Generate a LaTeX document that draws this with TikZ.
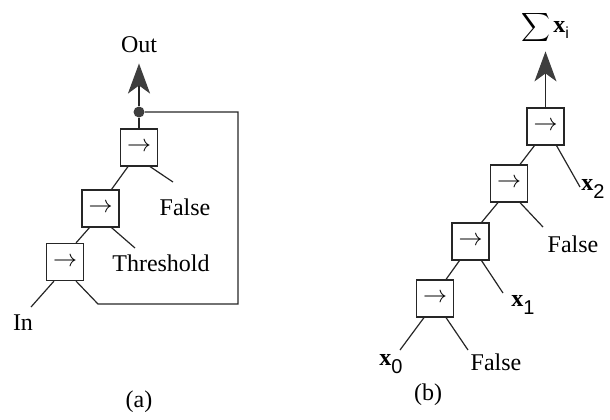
\documentclass[tikz,border=0pt]{standalone}
\usepackage{fontspec}
\setmainfont{Liberation Serif}
\newfontfamily\digitfont{Liberation Sans}
\usetikzlibrary{arrows.meta}
\definecolor{inkgray}{RGB}{62,62,62}

% bold x with a lowered sans digit
\newcommand{\xvar}[1]{\textbf{x}\raisebox{-0.34em}{\fontsize{10}{11}\digitfont #1}}

\begin{document}
\begin{tikzpicture}[x=0.5pt, y=-0.5pt,
  gate/.style={rectangle, draw=black!85, line width=0.6pt, minimum size=18.5pt,
               inner sep=0pt, font=\fontsize{12}{14}\selectfont},
  wire/.style={draw=black!85, line width=0.6pt},
  lbl/.style={inner sep=0pt, font=\fontsize{12}{14}\selectfont},
  vlbl/.style={inner sep=0pt, font=\fontsize{12}{14}\selectfont},
  outarrow/.style={-{Stealth[length=15pt, width=11pt, inset=4pt, fill=inkgray, color=inkgray]}}
]
\useasboundingbox (0,0) rectangle (610,419);

% (a) threshold loop
\node[gate] (a1) at (139,147.5) {$\rightarrow$};
\node[gate] (a2) at (100.5,208.5) {$\rightarrow$};
\node[gate] (a3) at (65,262) {$\rightarrow$};
\node[circle, fill=inkgray, minimum size=5.5pt, inner sep=0pt] (dot) at (139,112) {};
\node[lbl] (out) at (139,45) {Out};
\node[lbl] (fa) at (185,207) {False};
\node[lbl] (thr) at (161,263) {Threshold};
\node[lbl] (in) at (23,323) {In};
\node[lbl] (capa) at (139,402) {(a)};
\coordinate (fae) at (173,182);
\coordinate (thre) at (135,248);
\coordinate (ine) at (31,307);

\draw[wire, line width=1.3pt] (a1) -- (dot);
\draw[wire, line width=1.3pt, outarrow, shorten >=5pt] (dot) -- (out.south);
\draw[wire] (a1.-120) -- (a2.60);
\draw[wire] (a1.-60) -- (fae);
\draw[wire] (a2.-120) -- (a3.60);
\draw[wire] (a2.-60) -- (thre);
\draw[wire] (a3.-120) -- (ine);
\draw[wire] (a3.-60) -- (98,304) -- (238,304) -- (238,112) -- (dot);

% (b) running sum
\node[gate] (b1) at (545.5,126.5) {$\rightarrow$};
\node[gate] (b2) at (509,183.5) {$\rightarrow$};
\node[gate] (b3) at (470.5,241.5) {$\rightarrow$};
\node[gate] (b4) at (435,298.5) {$\rightarrow$};
\node[lbl] (sum) at (545,27) {\fontsize{10}{12}\selectfont$\displaystyle\sum$\,{\fontsize{12}{14}\selectfont\textbf{x}}\raisebox{-0.3em}{\fontsize{8}{9}\digitfont i}};
\node[vlbl] (x2) at (593,189) {\xvar{2}};
\node[lbl] (fb1) at (573,244) {False};
\node[vlbl] (x1) at (523,305) {\xvar{1}};
\node[vlbl] (x0) at (391,364) {\xvar{0}};
\node[lbl] (fb2) at (496,362) {False};
\node[lbl] (capb) at (428,395) {(b)};
\coordinate (x2e) at (580,187);
\coordinate (fb1e) at (543,227);
\coordinate (x1e) at (503,293);
\coordinate (x0e) at (400,350);
\coordinate (fb2e) at (468,350);

\draw[wire, outarrow, shorten >=4pt] (b1) -- (sum.south -| b1);
\draw[wire] (b1.-120) -- (b2.60);
\draw[wire] (b1.-60) -- (x2e);
\draw[wire] (b2.-120) -- (b3.60);
\draw[wire] (b2.-60) -- (fb1e);
\draw[wire] (b3.-120) -- (b4.60);
\draw[wire] (b3.-60) -- (x1e);
\draw[wire] (b4.-120) -- (x0e);
\draw[wire] (b4.-60) -- (fb2e);
\end{tikzpicture}
\end{document}
